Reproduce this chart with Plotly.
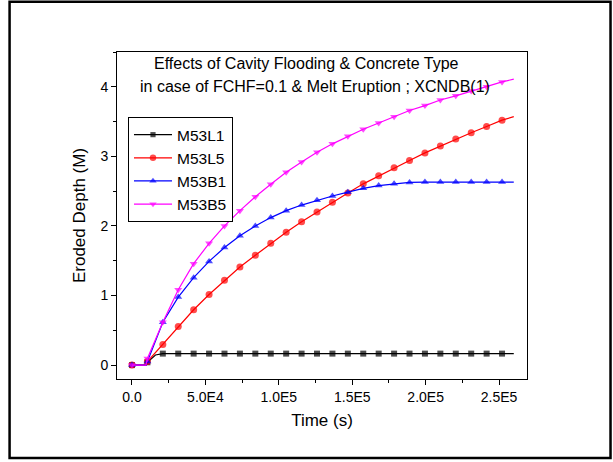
import plotly.graph_objects as go

# time points (s): markers every 10500 s, plus points
t_marks = [0, 10500, 21000, 31500, 42000, 52500, 63000, 73500, 84000, 94500,
           105000, 115500, 126000, 136500, 147000, 157500, 168000, 178500,
           189000, 199500, 210000, 220500, 231000, 241500, 252000]
t_end = 260000

names = ["M53L1", "M53L5", "M53B1", "M53B5"]
colors = ["#000000", "#FF0000", "#0000FF", "#FF00FF"]
symbols = ["square", "circle", "triangle-up", "triangle-down"]

m53l1 = [0.0, 0.04] + [0.165] * 23
m53l5 = [0.0, 0.05, 0.295, 0.555, 0.795, 1.015, 1.218, 1.41, 1.58, 1.75,
         1.91, 2.06, 2.20, 2.34, 2.475, 2.605, 2.72, 2.835, 2.94, 3.05,
         3.15, 3.25, 3.34, 3.43, 3.52]
m53b1 = [0.0, 0.05, 0.617, 0.977, 1.256, 1.49, 1.69, 1.86, 2.00, 2.12,
         2.22, 2.30, 2.37, 2.43, 2.485, 2.54, 2.58, 2.605, 2.625, 2.63,
         2.63, 2.63, 2.63, 2.63, 2.63]
m53b5 = [0.0, 0.094, 0.617, 1.083, 1.458, 1.75, 2.00, 2.22, 2.42, 2.60,
         2.77, 2.92, 3.06, 3.18, 3.29, 3.39, 3.48, 3.57, 3.66, 3.73,
         3.81, 3.87, 3.94, 4.00, 4.07]
end_vals = [0.165, 3.57, 2.63, 4.11]

# extra curve points (no marker) read from the picture near the start
t_start = 9500
start_vals = [0.0, 0.0, 0.0, 0.0]
t_black_rise = [13000, 16000]
black_rise = [0.09, 0.145]

x_ticks = [0, 50000, 100000, 150000, 200000, 250000]
x_tick_text = ["0.0", "5.0E4", "1.0E5", "1.5E5", "2.0E5", "2.5E5"]
y_ticks = [0, 1, 2, 3, 4]

title1 = "Effects of Cavity Flooding & Concrete Type"
title2 = "in case of FCHF=0.1 & Melt Eruption ; XCNDB(1)"

FONT = "Arial, Liberation Sans, sans-serif"

fig = go.Figure()
series = [m53l1, m53l5, m53b1, m53b5]
for i, vals in enumerate(series):
    xs = [t_marks[0], t_start] + t_marks[1:]
    ys = [vals[0], start_vals[i]] + vals[1:]
    if i == 0:
        xs = [t_marks[0], t_start, t_marks[1]] + t_black_rise + t_marks[2:]
        ys = [vals[0], start_vals[i], vals[1]] + black_rise + vals[2:]
    xs = xs + [t_end]
    ys = ys + [end_vals[i]]
    is_mark = [x in t_marks for x in xs]
    is_mark[-1] = False
    msize = 6 if symbols[i] == "square" else 7
    sizes = [msize if m else 0 for m in is_mark]
    fig.add_trace(go.Scatter(
        x=xs, y=ys, name=names[i], mode="lines+markers",
        line=dict(color=colors[i], width=1.2),
        marker=dict(symbol=symbols[i], size=sizes, color=colors[i],
                    line=dict(width=0)),
    ))

axis_common = dict(
    showline=True, linecolor="#000000", linewidth=1, mirror=True,
    ticks="outside", ticklen=5, tickwidth=1, tickcolor="#000000",
    showgrid=False, zeroline=False,
    tickfont=dict(family=FONT, size=14, color="#000000"),
)

fig.update_xaxes(
    range=[-10200, 269000], tickvals=x_ticks, ticktext=x_tick_text,
    minor=dict(ticks="outside", ticklen=3, tickwidth=1, tickcolor="#000000",
               dtick=25000, tick0=0),
    title=dict(text="Time (s)", font=dict(family=FONT, size=17, color="#000000"),
               standoff=10),
    **axis_common,
)
fig.update_yaxes(
    range=[-0.2, 4.5], tickvals=y_ticks,
    minor=dict(ticks="outside", ticklen=3, tickwidth=1, tickcolor="#000000",
               dtick=0.5, tick0=0),
    title=dict(text="Eroded Depth (M)", font=dict(family=FONT, size=17, color="#000000"),
               standoff=10),
    **axis_common,
)

fig.add_annotation(text=title1, xref="paper", yref="paper", x=0.461, y=0.966,
                   showarrow=False, xanchor="center", yanchor="middle",
                   font=dict(family=FONT, size=16, color="#000000"))
fig.add_annotation(text=title2, xref="paper", yref="paper", x=0.483, y=0.893,
                   showarrow=False, xanchor="center", yanchor="middle",
                   font=dict(family=FONT, size=16, color="#000000"))

# outer frame
fig.add_shape(type="rect", xref="paper", yref="paper",
              x0=-0.262, x1=1.2037, y0=-0.2416, y1=1.154,
              line=dict(color="#000000", width=2.5))

fig.update_layout(
    width=613, height=462,
    margin=dict(l=117, r=86, t=52, b=83),
    paper_bgcolor="#FFFFFF", plot_bgcolor="#FFFFFF",
    font=dict(family=FONT, color="#000000"),
    showlegend=True,
    legend=dict(x=0.0268, y=0.801, xanchor="left", yanchor="top",
                bordercolor="#000000", borderwidth=1, bgcolor="#FFFFFF",
                font=dict(family=FONT, size=15.5, color="#000000"),
                itemwidth=38, tracegroupgap=0),
)

fig.write_html("out.html")
